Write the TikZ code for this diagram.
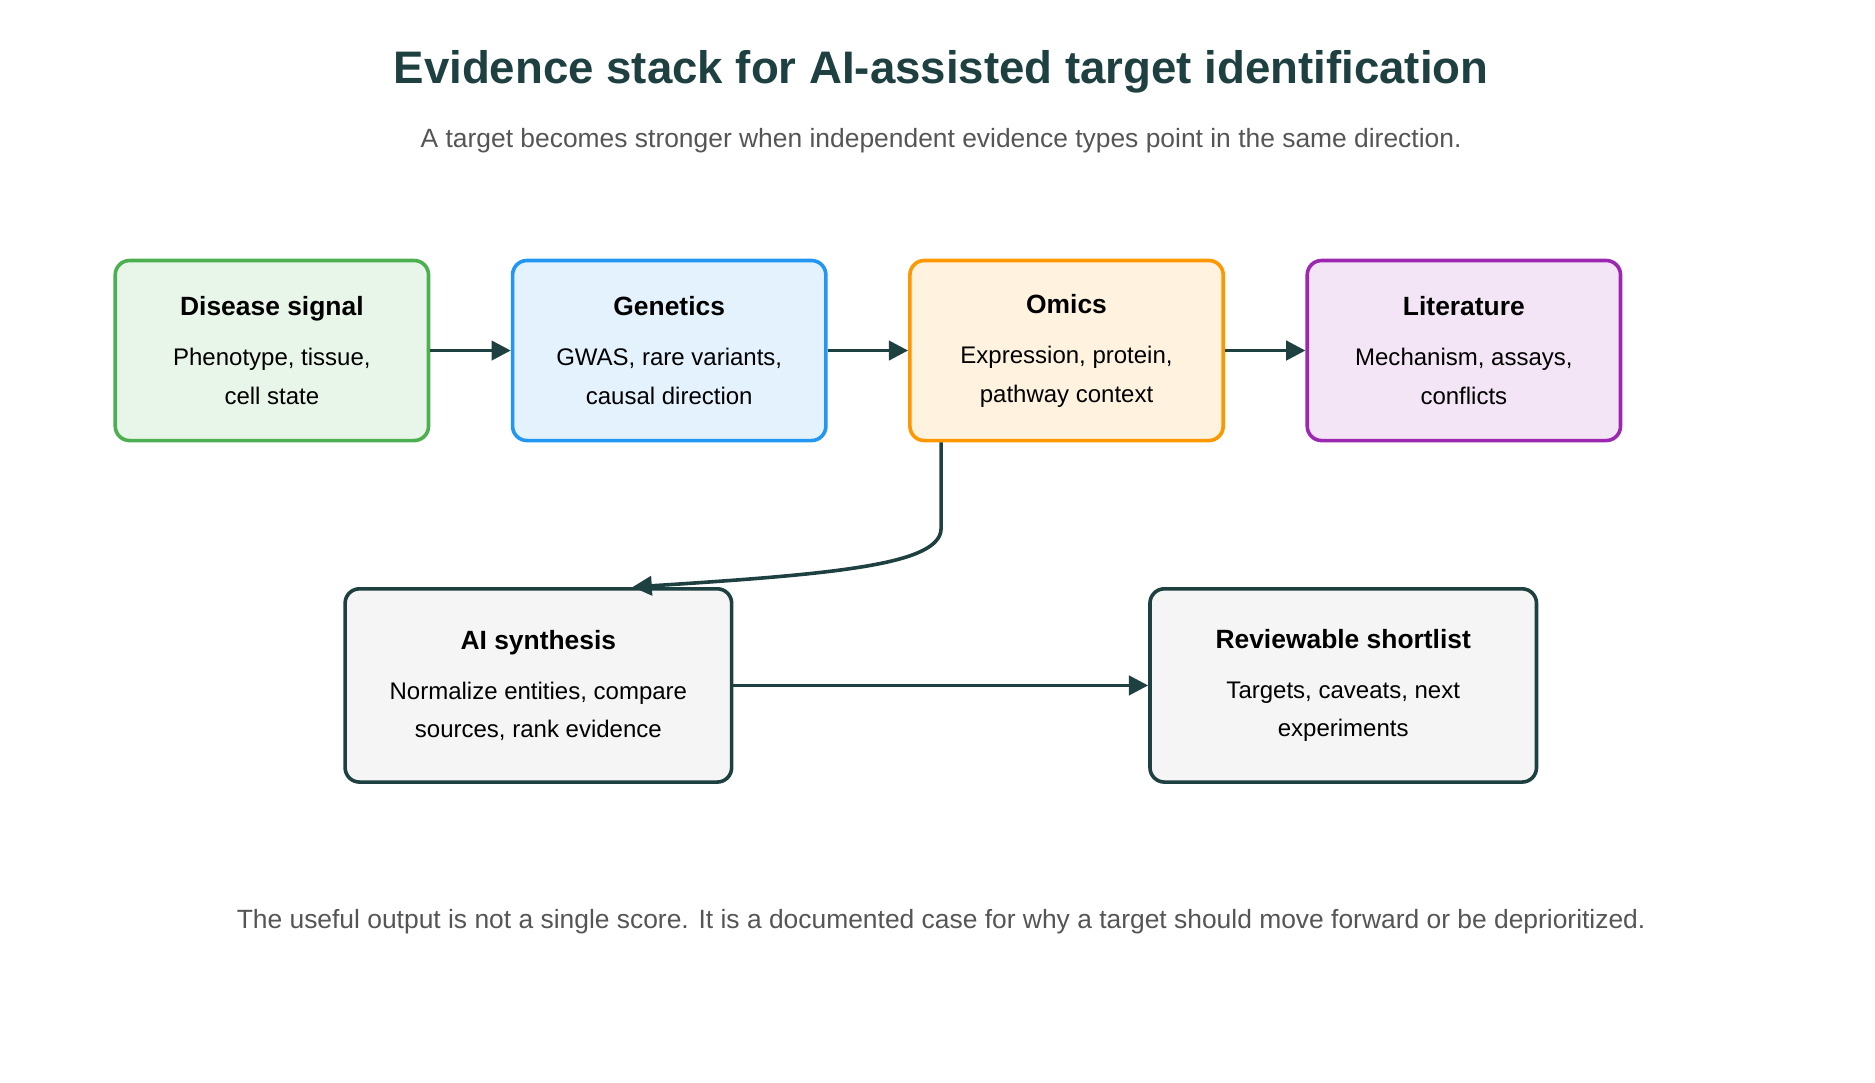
\documentclass[tikz,border=0pt]{standalone}
\usepackage{fontspec}
\setmainfont{Liberation Sans}
\usetikzlibrary{arrows.meta,positioning}
\definecolor{ink}{HTML}{1F4040}
\definecolor{greenline}{HTML}{4CAF50}\definecolor{greenfill}{HTML}{E8F5E9}
\definecolor{blueline}{HTML}{2196F3}\definecolor{bluefill}{HTML}{E3F2FD}
\definecolor{orangeline}{HTML}{FF9800}\definecolor{orangefill}{HTML}{FFF3E0}
\definecolor{purpleline}{HTML}{9C27B0}\definecolor{purplefill}{HTML}{F3E5F5}
\definecolor{grayfill}{HTML}{F5F5F5}
\definecolor{note}{HTML}{555555}
\begin{document}
\begin{tikzpicture}[x=0.5pt,y=-0.5pt]
\tikzstyle{card}=[draw,line width=1.5pt,rounded corners=6pt,minimum width=130.5pt,minimum height=75pt,align=center,font=\fontsize{10}{16}\selectfont,inner sep=0pt]
\tikzstyle{wide}=[card,minimum width=161pt,minimum height=80.5pt]
\tikzstyle{link}=[draw=ink,line width=1.5pt,-{Triangle[length=8pt,width=8pt]}]
\useasboundingbox (0,0) rectangle (1562,902);
\node (title) at (784,60) {\fontsize{19}{22}\selectfont\bfseries\color{ink}Evidence stack for AI-assisted target identification};
\node (sub) at (784,117) {\fontsize{11}{13}\selectfont\color{note}A target becomes stronger when independent evidence types point in the same direction.};
\node[card,draw=greenline,fill=greenfill](disease) at (226.5,292) {{\fontsize{11}{13}\selectfont\bfseries Disease signal}\\[5pt]Phenotype, tissue,\\cell state};
\node[card,draw=blueline,fill=bluefill](genetics) at (557.5,292) {{\fontsize{11}{13}\selectfont\bfseries Genetics}\\[5pt]GWAS, rare variants,\\causal direction};
\node[card,draw=orangeline,fill=orangefill](omics) at (888.5,292) {{\fontsize{11}{13}\selectfont\bfseries Omics}\\[5pt]Expression, protein,\\pathway context};
\node[card,draw=purpleline,fill=purplefill](lit) at (1219.5,292) {{\fontsize{11}{13}\selectfont\bfseries Literature}\\[5pt]Mechanism, assays,\\conflicts};
\node[wide,draw=ink,fill=grayfill](ai) at (448.5,571) {{\fontsize{11}{13}\selectfont\bfseries AI synthesis}\\[5pt]Normalize entities, compare\\sources, rank evidence};
\node[wide,draw=ink,fill=grayfill](shortlist) at (1119,571) {{\fontsize{11}{13}\selectfont\bfseries Reviewable shortlist}\\[5pt]Targets, caveats, next\\experiments};
\node (foot) at (784,768) {\fontsize{11}{13}\selectfont\color{note}The useful output is not a single score. It is a documented case for why a target should move forward or be deprioritized.};
\draw[link] (disease) -- (genetics);
\draw[link] (genetics) -- (omics);
\draw[link] (omics) -- (lit);
\coordinate (bend) at (784,440);
\draw[link] (omics.south -| bend) -- (bend) .. controls (784,470) and (700,478) .. (ai.north -| 527,0);
\draw[link] (ai) -- (shortlist);
\end{tikzpicture}
\end{document}
